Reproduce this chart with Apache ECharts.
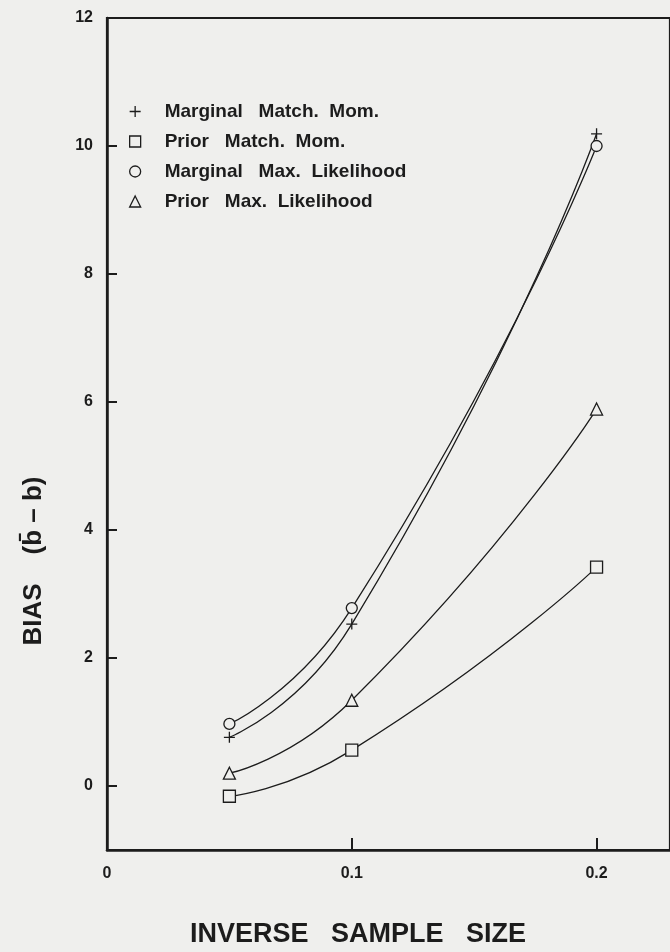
<!DOCTYPE html>
<html>
<head>
<meta charset="utf-8">
<script src="https://cdn.jsdelivr.net/npm/echarts@6/dist/echarts.min.js"></script>
<style>
  html, body { margin: 0; padding: 0; background: #efefed; }
  #chart { width: 670px; height: 952px; }
</style>
</head>
<body>
<div id="chart"></div>
<script>
// Inverse sample size (1/n) at which each estimator was evaluated
const inverseSampleSize = [0.05, 0.1, 0.2];

// Bias of each estimator
const marginalMatchMom = [0.76, 2.53, 10.19];
const priorMatchMom = [-0.16, 0.56, 3.42];
const marginalMaxLik = [0.97, 2.78, 10.0];
const priorMaxLik = [0.2, 1.34, 5.89];

const seriesNames = [
  'Marginal   Match.  Mom.',
  'Prior   Match.  Mom.',
  'Marginal   Max.  Likelihood',
  'Prior   Max.  Likelihood'
];

const xTicks = [0, 0.1, 0.2];
const yTicks = [0, 2, 4, 6, 8, 10, 12];

const INK = '#1c1c1c';
const PAPER = '#efefed';
const FONT = 'Liberation Sans, Arial, sans-serif';
const PLUS = 'path://M5,0L5,10M0,5L10,5';
const symbols = [PLUS, 'rect', 'circle', 'triangle'];
const symbolSizes = [11, 12, 11, 12];
const values = [marginalMatchMom, priorMatchMom, marginalMaxLik, priorMaxLik];

const series = seriesNames.map((name, i) => ({
  name: name,
  type: 'line',
  smooth: 0.6,
  data: inverseSampleSize.map((x, j) => [x, values[i][j]]),
  symbol: symbols[i],
  symbolSize: symbolSizes[i],
  showAllSymbol: true,
  lineStyle: { color: INK, width: 1.3 },
  itemStyle: { color: PAPER, borderColor: INK, borderWidth: 1.3 },
  z: 3
}));

const chart = echarts.init(document.getElementById('chart'), null, { renderer: 'canvas' });
chart.setOption({
  backgroundColor: PAPER,
  animation: false,
  textStyle: { fontFamily: FONT, color: INK },
  grid: {
    left: 107, top: 18, width: 582, height: 832,
    show: true, borderColor: INK, borderWidth: 2.2, backgroundColor: 'transparent'
  },
  legend: {
    orient: 'vertical',
    left: 124, top: 97,
    itemWidth: 11, itemHeight: 11, itemGap: 11,
    data: seriesNames.map((n, i) => ({ name: n, icon: symbols[i] })),
    itemStyle: { color: PAPER, borderColor: INK, borderWidth: 1.3 },
    lineStyle: { opacity: 0 },
    textStyle: {
      fontFamily: FONT, fontSize: 19, fontWeight: 'bold', color: INK,
      lineHeight: 19, padding: [0, 0, 0, 19]
    }
  },
  xAxis: {
    type: 'value', min: 0, max: 0.23, interval: 0.1,
    splitLine: { show: false },
    axisLine: { onZero: false, lineStyle: { color: INK, width: 2.5 } },
    axisTick: { inside: true, length: 12, lineStyle: { color: INK, width: 2 }, customValues: xTicks },
    axisLabel: {
      customValues: xTicks, margin: 16,
      fontSize: 16, fontWeight: 'bold', color: INK,
      formatter: v => String(v)
    }
  },
  yAxis: {
    type: 'value', min: -1, max: 12,
    splitLine: { show: false },
    axisLine: { onZero: false, lineStyle: { color: INK, width: 2.5 } },
    axisTick: { inside: true, length: 10, lineStyle: { color: INK, width: 2 }, customValues: yTicks },
    axisLabel: {
      customValues: yTicks, margin: 14,
      fontSize: 16, fontWeight: 'bold', color: INK
    }
  },
  graphic: [
    {
      type: 'text', x: 34, y: 561, rotation: Math.PI / 2,
      style: {
        text: 'BIAS    (b\u0304 \u2013 b)', fill: INK,
        font: 'bold 26px ' + FONT,
        textAlign: 'center', textVerticalAlign: 'middle'
      }
    },
    {
      type: 'text', x: 358, y: 935,
      style: {
        text: 'INVERSE   SAMPLE   SIZE', fill: INK,
        font: 'bold 27px ' + FONT,
        textAlign: 'center', textVerticalAlign: 'middle'
      }
    }
  ],
  series: series
});
</script>
</body>
</html>
